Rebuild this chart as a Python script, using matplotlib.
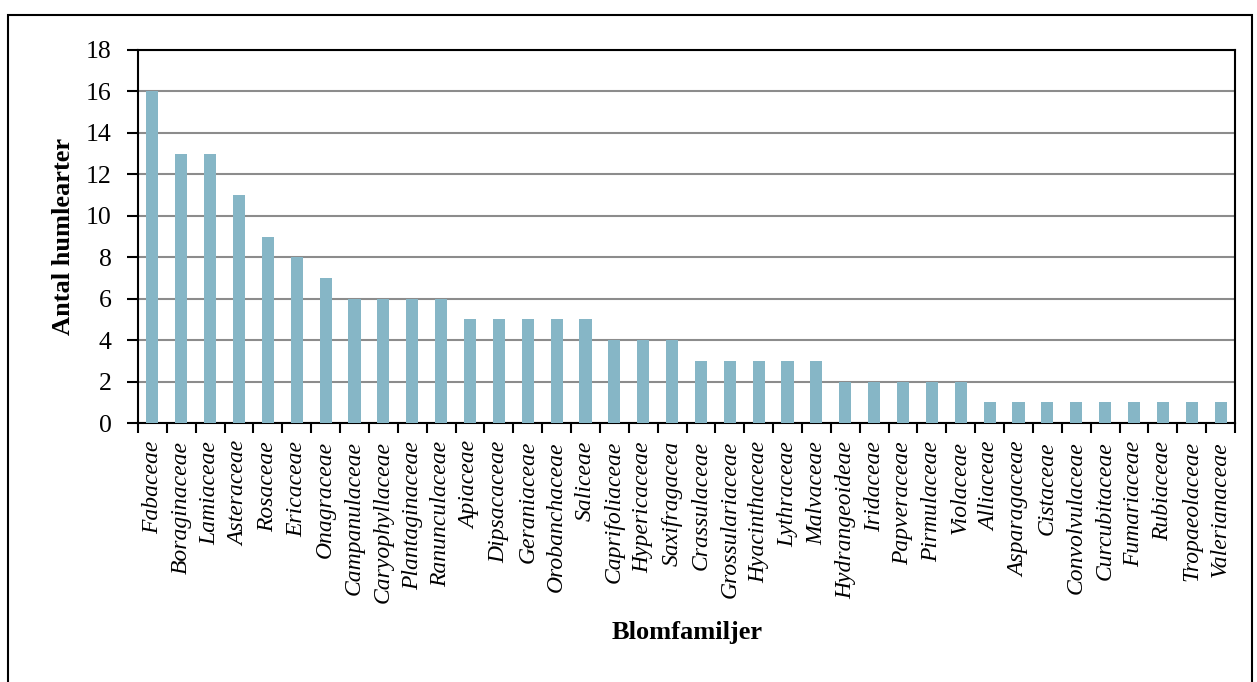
import numpy as np
import matplotlib.pyplot as plt
from matplotlib.patches import Rectangle

families = ["Fabaceae", "Boraginaceae", "Lamiaceae", "Asteraceae", "Rosaceae",
            "Ericaceae", "Onagraceae", "Campanulaceae", "Caryophyllaceae",
            "Plantaginaceae", "Ranunculaceae", "Apiaceae", "Dipsacaceae",
            "Geraniaceae", "Orobanchaceae", "Saliceae", "Caprifoliaceae",
            "Hypericaceae", "Saxifragacea", "Crassulaceae", "Grossulariaceae",
            "Hyacinthaceae", "Lythraceae", "Malvaceae", "Hydrangeoideae",
            "Iridaceae", "Papveraceae", "Pirmulaceae", "Violaceae", "Alliaceae",
            "Asparagaceae", "Cistaceae", "Convolvulaceae", "Curcubitaceae",
            "Fumariaceae", "Rubiaceae", "Tropaeolaceae", "Valerianaceae"]
counts = [16, 13, 13, 11, 9, 8, 7, 6, 6, 6, 6, 5, 5, 5, 5, 5, 4, 4, 4,
          3, 3, 3, 3, 3, 2, 2, 2, 2, 2, 1, 1, 1, 1, 1, 1, 1, 1, 1]
yticks = list(range(0, 19, 2))

plt.rcParams['font.family'] = ['Liberation Serif', 'DejaVu Serif']

W, H = 1257, 682
fig = plt.figure(figsize=(W/100, H/100), dpi=100)
ax = fig.add_axes([138/W, 1-423/H, (1235-138)/W, (423-50)/H])

x = np.arange(len(families))
ax.bar(x, counts, width=0.42, color='#86b6c6', zorder=3)

ax.set_xlim(-0.5, len(families)-0.5)
ax.set_ylim(0, 18)
ax.set_yticks(yticks)
ax.tick_params(axis='y', labelsize=18.5, direction='out', length=8, width=1.5, pad=11)
ax.yaxis.grid(True, color='#8c8c8c', linewidth=1.5, zorder=0)
ax.set_axisbelow(True)

ax.set_xticks(x)
ax.set_xticklabels(families, rotation=90, fontsize=17, style='italic')
ax.tick_params(axis='x', length=0, pad=13)
ax.set_xticks(np.arange(-0.5, len(families), 1), minor=True)
ax.tick_params(axis='x', which='minor', direction='out', length=7, width=1.5)

for s in ax.spines.values():
    s.set_linewidth(1.5)

fig.text(64/W, 1-236/H, 'Antal humlearter', fontsize=19, fontweight='bold',
         rotation=90, ha='center', va='center')
fig.text(687/W, 1-632/H, 'Blomfamiljer', fontsize=19, fontweight='bold',
         ha='center', va='center')

# outer chart border
fig.patches.append(Rectangle((8/W, -0.01), (1252-8)/W, 1-15/H+0.01,
                             transform=fig.transFigure, fill=False,
                             edgecolor='black', linewidth=1.5))

fig.savefig('out.png', dpi=100)
